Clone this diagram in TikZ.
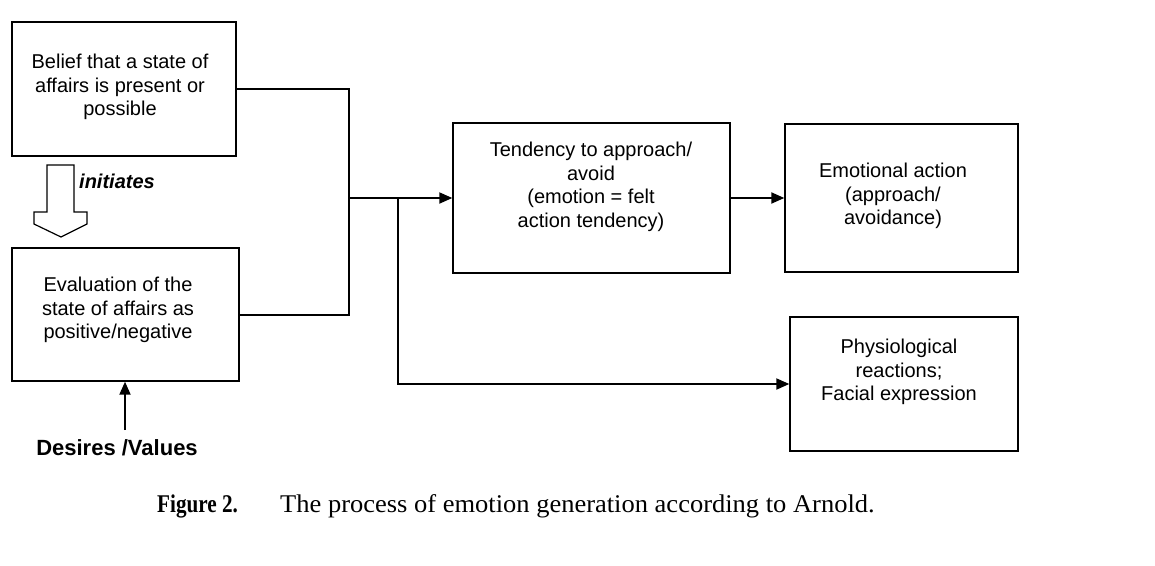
\documentclass[tikz,border=0pt]{standalone}
\usepackage{fontspec}
\setmainfont{Liberation Sans}
\newfontfamily\capfont{Liberation Serif}
\usetikzlibrary{arrows.meta}
\tikzset{
  box/.style={draw, line width=1.4pt, inner sep=0pt},
  txt/.style={align=center, inner sep=0pt, font=\fontsize{20}{23.5}\selectfont},
  conn/.style={line width=2pt},
  arr/.style={conn, -{Triangle[length=13pt,width=11pt]}},
}
\begin{document}
\begin{tikzpicture}[x=1pt,y=-1pt]
\useasboundingbox (0,0) rectangle (1155,565);
% boxes
\node[box, minimum width=224pt, minimum height=134pt] (b1) at (124,89) {};
\node[box, minimum width=227pt, minimum height=133pt] (b2) at (125.5,314.5) {};
\node[box, minimum width=277pt, minimum height=150pt] (b3) at (591.5,198) {};
\node[box, minimum width=233pt, minimum height=148pt] (b4) at (901.5,198) {};
\node[box, minimum width=228pt, minimum height=134pt] (b5) at (904,384) {};
% texts
\node[txt] (t1) at (120,87) {Belief that a state of\\affairs is present or\\possible};
\node[txt] (t2) at (118,310) {Evaluation of the\\state of affairs as\\positive/negative};
\node[txt] (t3) at (591,187) {Tendency to approach/\\avoid\\(emotion = felt\\action tendency)};
\node[txt] (t4) at (893,196) {Emotional action\\(approach/\\avoidance)};
\node[txt] (t5) at (899,372) {Physiological\\reactions;\\Facial expression};
\node[txt, font=\fontsize{20}{24}\selectfont\bfseries\itshape, anchor=west] (ini) at (79,181) {initiates};
\node[txt, font=\fontsize{22}{26}\selectfont\bfseries] (d) at (117,448) {Desires /Values};
% hollow arrow
\draw[line width=1.2pt, line join=miter] (47,165) -- (74,165) -- (74,212) -- (87,212) -- (87,224) -- (61,237) -- (34,224) -- (34,212) -- (47,212) -- cycle;
% connectors
\coordinate (m) at (349,198);
\coordinate (k) at (398,198);
\coordinate (ds) at (125,430);
\draw[conn] (b1.east) -| (m) |- (b2.east);
\draw[arr] (m) -- (b3.west);
\draw[arr] (k) |- (b5.west);
\draw[arr] (b3.east) -- (b4.west);
\draw[arr] (ds) -- (ds |- b2.south);
% caption
\node[anchor=base west, inner sep=0pt, font=\capfont\fontsize{25.5}{30}\selectfont] (capa) at (157,512) {\scalebox{0.83}[1]{\textbf{Figure 2.}}};
\node[anchor=base west, inner sep=0pt, font=\capfont\fontsize{25.5}{30}\selectfont] (capb) at (280,512) {\scalebox{1.039}[1]{The process of emotion generation according to Arnold.}};
\end{tikzpicture}
\end{document}
